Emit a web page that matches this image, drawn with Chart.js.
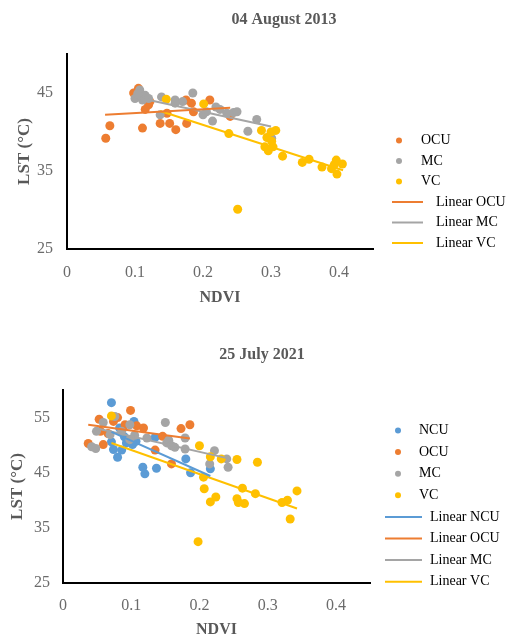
<!DOCTYPE html>
<html>
<head>
<meta charset="utf-8">
<script src="https://cdn.jsdelivr.net/npm/chart.js@4.4.1/dist/chart.umd.min.js"></script>
<style>
body { margin: 0; background: #fff; }
canvas { display: block; }
</style>
</head>
<body>
<canvas id="chart2013" width="521" height="320"></canvas>
<canvas id="chart2021" width="521" height="321"></canvas>
<script>
// NDVI / LST pairs
const ocu2013 = [[0.057,39.2],[0.063,40.8],[0.098,45.0],[0.105,45.6],[0.103,44.6],[0.120,43.5],[0.115,42.9],[0.122,43.9],
    [0.111,40.5],[0.137,41.1],[0.147,42.4],[0.151,41.1],[0.160,40.3],[0.176,41.1],[0.175,44.1],[0.183,43.7],
    [0.186,42.6],[0.210,44.1],[0.240,42.0]];
const mc2013 = [[0.100,44.3],[0.107,45.4],[0.115,44.7],[0.111,44.1],[0.104,44.9],[0.120,44.3],[0.139,44.5],[0.159,44.1],
    [0.170,43.9],[0.159,43.7],[0.185,45.0],[0.137,42.2],[0.200,42.2],[0.205,42.6],[0.214,41.4],[0.219,43.2],
    [0.225,42.9],[0.235,42.4],[0.245,42.5],[0.250,42.6],[0.266,40.1],[0.279,41.6],[0.301,39.2]];
const vc2013 = [[0.146,44.2],[0.201,43.6],[0.238,39.8],[0.251,30.1],[0.286,40.2],[0.300,40.0],[0.307,40.2],[0.294,39.3],
    [0.301,38.8],[0.291,38.1],[0.296,37.6],[0.303,38.1],[0.317,36.9],[0.346,36.1],[0.356,36.5],[0.375,35.5],
    [0.389,35.3],[0.396,36.4],[0.405,35.9],[0.397,34.6],[0.393,35.8]];

const ocuFit2013 = [[0.056,42.2],[0.240,43.1]];
const mcFit2013 = [[0.100,44.5],[0.300,40.7]];
const vcFit2013 = [[0.137,42.7],[0.406,35.1]];

const ncu2021 = [[0.071,57.7],[0.104,54.3],[0.083,53.1],[0.071,50.6],[0.074,49.2],[0.080,47.8],[0.086,49.1],[0.093,50.4],
    [0.102,50.1],[0.107,50.7],[0.090,51.5],[0.135,51.4],[0.117,46.0],[0.120,44.8],[0.137,45.8],[0.180,47.5],
    [0.187,45.0],[0.216,45.7]];
const ocu2021 = [[0.037,50.3],[0.053,54.7],[0.059,50.1],[0.074,54.3],[0.080,55.0],[0.099,56.3],[0.091,53.7],[0.108,53.5],
    [0.118,53.1],[0.066,52.1],[0.055,52.5],[0.146,51.6],[0.135,49.1],[0.159,46.6],[0.173,53.0],[0.186,53.7]];
const mc2021 = [[0.042,49.7],[0.048,49.4],[0.049,52.5],[0.059,54.1],[0.076,55.2],[0.069,51.9],[0.086,52.5],[0.098,53.7],
    [0.098,51.0],[0.105,51.8],[0.123,51.3],[0.150,54.1],[0.152,50.4],[0.155,50.9],[0.159,49.9],[0.164,49.6],
    [0.179,49.3],[0.179,51.3],[0.215,46.6],[0.222,49.0],[0.242,46.0],[0.240,47.5]];
const vc2021 = [[0.071,55.3],[0.200,49.9],[0.216,47.9],[0.232,47.5],[0.255,47.4],[0.285,46.9],[0.206,44.2],[0.207,42.1],
    [0.216,39.7],[0.224,40.6],[0.198,32.5],[0.255,40.3],[0.257,39.6],[0.266,39.4],[0.263,42.2],[0.282,41.2],
    [0.321,39.6],[0.329,40.0],[0.343,41.7],[0.333,36.6]];

const ncuFit2021 = [[0.071,52.4],[0.216,44.4]];
const ocuFit2021 = [[0.037,53.7],[0.186,51.2]];
const mcFit2021 = [[0.047,53.1],[0.242,47.6]];
const vcFit2021 = [[0.071,50.4],[0.343,38.5]];

const xTicks = [0, 0.1, 0.2, 0.3, 0.4];
const yTicks2013 = [25, 35, 45];
const yTicks2021 = [25, 35, 45, 55];

const NCU_COLOR = "#5B9BD5";
const OCU_COLOR = "#ED7D31";
const MC_COLOR = "#A5A5A5";
const VC_COLOR = "#FFC000";
const SERIF = "'Liberation Serif', 'Times New Roman', serif";

function toXY(pts) {
    return pts.map(p => ({ x: p[0], y: p[1] }));
}

function pointSet(label, pts, color, order) {
    return {
        label: label,
        data: toXY(pts),
        backgroundColor: color,
        borderColor: color,
        borderWidth: 0,
        pointRadius: 4.5,
        pointHoverRadius: 4.5,
        order: order
    };
}

function fitSet(label, pts, color) {
    return {
        label: label,
        data: toXY(pts),
        showLine: true,
        borderColor: color,
        backgroundColor: color,
        borderWidth: 2,
        pointRadius: 0,
        fill: false,
        order: 0
    };
}

// title + legend drawn at fixed spots, like the pasted Excel panels
const panelDecor = {
    id: "panelDecor",
    afterDraw(chart, args, opts) {
        const ctx = chart.ctx;
        ctx.save();
        ctx.font = "bold 16px " + SERIF;
        ctx.fillStyle = "#595959";
        ctx.textAlign = "center";
        ctx.textBaseline = "middle";
        ctx.fillText(opts.title, opts.titleX, opts.titleY);

        ctx.font = "14px " + SERIF;
        ctx.textAlign = "left";
        chart.data.datasets.forEach((ds, i) => {
            const y = opts.legendTop + i * opts.legendStep;
            if (ds.showLine) {
                ctx.strokeStyle = ds.borderColor;
                ctx.lineWidth = 2;
                ctx.beginPath();
                ctx.moveTo(opts.lineX1, y);
                ctx.lineTo(opts.lineX2, y);
                ctx.stroke();
                ctx.fillStyle = "#000";
                ctx.fillText(ds.label, opts.lineTextX, y);
            } else {
                ctx.fillStyle = ds.backgroundColor;
                ctx.beginPath();
                ctx.arc(opts.markX, y, 3, 0, Math.PI * 2);
                ctx.fill();
                ctx.fillStyle = "#000";
                ctx.fillText(ds.label, opts.textX, y);
            }
        });
        ctx.restore();
    }
};

function drawPanel(id, datasets, yMax, yTicks, box) {
    const ctx = document.getElementById(id).getContext("2d");
    return new Chart(ctx, {
        type: "scatter",
        data: { datasets: datasets },
        plugins: [panelDecor],
        options: {
            responsive: false,
            animation: false,
            events: [],
            layout: { padding: { top: box.top, right: box.right, left: 0, bottom: 0 } },
            plugins: {
                legend: { display: false },
                tooltip: { enabled: false },
                panelDecor: box.decor
            },
            scales: {
                x: {
                    type: "linear",
                    min: 0,
                    max: 0.45,
                    afterBuildTicks: s => { s.ticks = xTicks.map(v => ({ value: v })); },
                    afterFit: s => { s.height = box.xHeight; },
                    grid: { display: false, drawTicks: false },
                    border: { display: true, color: "#000", width: 2 },
                    ticks: {
                        padding: box.xTickPad,
                        color: "#6b6b6b",
                        font: { family: SERIF, size: 16 },
                        maxRotation: 0,
                        callback: v => String(v)
                    },
                    title: {
                        display: true,
                        text: "NDVI",
                        color: "#595959",
                        font: { family: SERIF, size: 16, weight: "bold" },
                        padding: { top: 0, bottom: box.xTitlePad }
                    }
                },
                y: {
                    type: "linear",
                    min: 25,
                    max: yMax,
                    afterBuildTicks: s => { s.ticks = yTicks.map(v => ({ value: v })); },
                    afterFit: s => { s.width = box.yWidth; },
                    grid: { display: false, drawTicks: false },
                    border: { display: true, color: "#000", width: 2 },
                    ticks: {
                        padding: box.yTickPad,
                        color: "#6b6b6b",
                        font: { family: SERIF, size: 16 }
                    },
                    title: {
                        display: true,
                        text: "LST (\u00B0C)",
                        color: "#595959",
                        font: { family: SERIF, size: 17, weight: "bold" },
                        padding: { top: box.yTitlePad, bottom: 0 }
                    }
                }
            }
        }
    });
}

drawPanel("chart2013", [
    pointSet("OCU", ocu2013, OCU_COLOR, 3),
    pointSet("MC", mc2013, MC_COLOR, 2),
    pointSet("VC", vc2013, VC_COLOR, 1),
    fitSet("Linear OCU", ocuFit2013, OCU_COLOR),
    fitSet("Linear MC", mcFit2013, MC_COLOR),
    fitSet("Linear VC", vcFit2013, VC_COLOR)
], 50, yTicks2013, {
    top: 54, right: 148, yWidth: 67, xHeight: 71,
    xTickPad: 14, yTickPad: 14, xTitlePad: 13, yTitlePad: 14,
    decor: {
        title: "04 August 2013", titleX: 284, titleY: 20,
        legendTop: 140.5, legendStep: 20.5,
        markX: 399, textX: 421, lineX1: 392, lineX2: 423, lineTextX: 436
    }
});

drawPanel("chart2021", [
    pointSet("NCU", ncu2021, NCU_COLOR, 4),
    pointSet("OCU", ocu2021, OCU_COLOR, 3),
    pointSet("MC", mc2021, MC_COLOR, 2),
    pointSet("VC", vc2021, VC_COLOR, 1),
    fitSet("Linear NCU", ncuFit2021, NCU_COLOR),
    fitSet("Linear OCU", ocuFit2021, OCU_COLOR),
    fitSet("Linear MC", mcFit2021, MC_COLOR),
    fitSet("Linear VC", vcFit2021, VC_COLOR)
], 60, yTicks2021, {
    top: 70, right: 151, yWidth: 63, xHeight: 58,
    xTickPad: 13, yTickPad: 13, xTitlePad: 2, yTitlePad: 7,
    decor: {
        title: "25 July 2021", titleX: 262, titleY: 35,
        legendTop: 110.5, legendStep: 21.6,
        markX: 398, textX: 419, lineX1: 385, lineX2: 422, lineTextX: 430
    }
});
</script>
</body>
</html>
